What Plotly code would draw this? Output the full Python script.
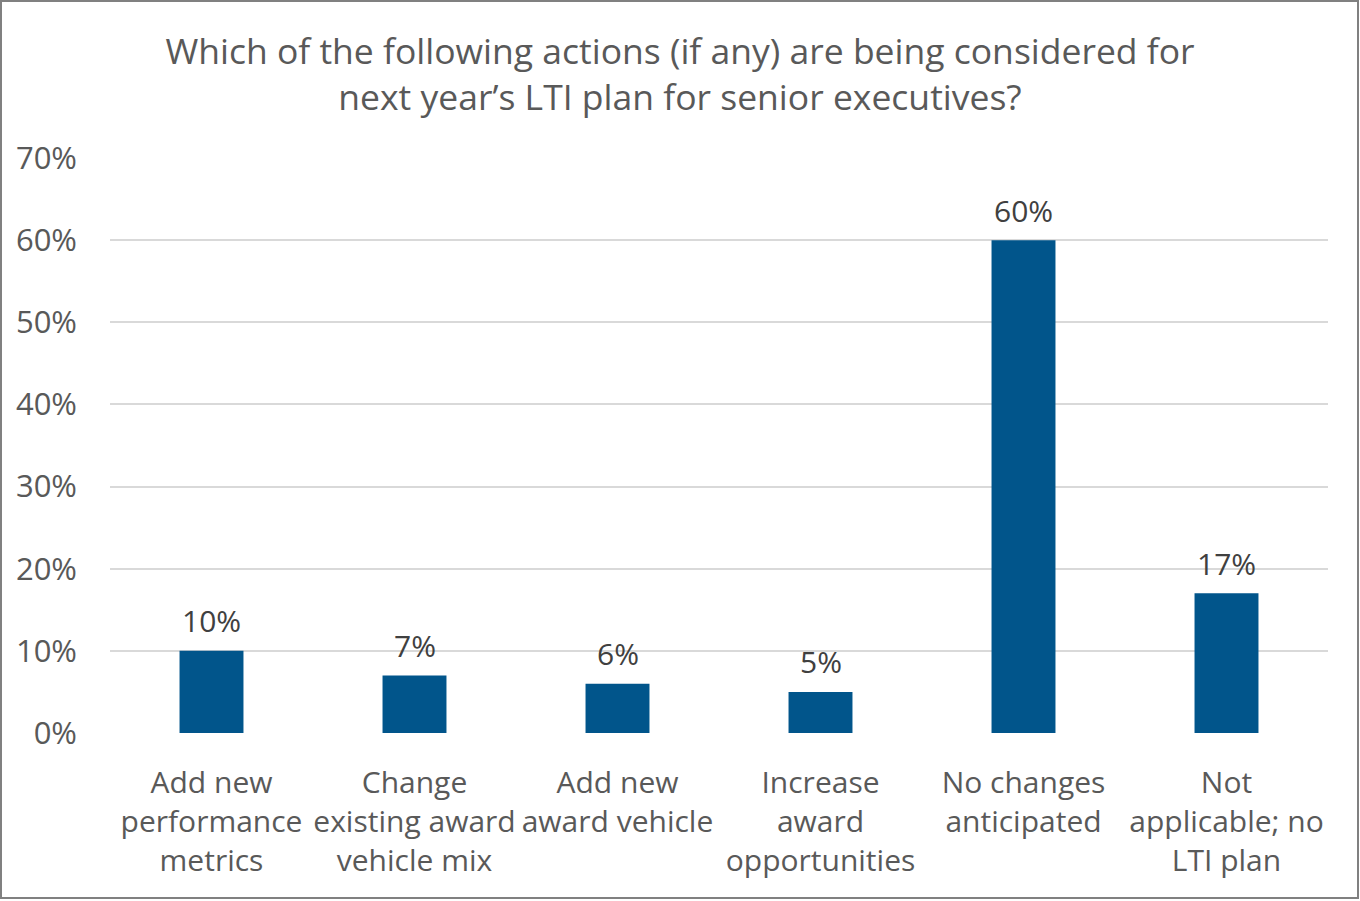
import plotly.graph_objects as go

categories = ["Add new<br>performance<br>metrics", "Change<br>existing award<br>vehicle mix",
              "Add new<br>award vehicle", "Increase<br>award<br>opportunities",
              "No changes<br>anticipated", "Not<br>applicable; no<br>LTI plan"]
values = [0.10, 0.07, 0.06, 0.05, 0.60, 0.17]
labels = ["10%", "7%", "6%", "5%", "60%", "17%"]
y_ticks = [0, 0.1, 0.2, 0.3, 0.4, 0.5, 0.6, 0.7]
y_tick_text = ["0%", "10%", "20%", "30%", "40%", "50%", "60%", "70%"]

W, H = 1360, 901
ML, MR, MT, MB = 110, 32, 158, 168
FONT = "Open Sans"
GRAY = "#595959"

fig = go.Figure(go.Bar(
    x=categories, y=values,
    marker=dict(color="#01558B", line=dict(width=0)),
    cliponaxis=False,
))

annotations = [dict(x=c, y=v, text=t, xref="x", yref="y", showarrow=False,
                    yanchor="middle", yshift=30,
                    font=dict(size=30, color="#404040", family=FONT))
               for c, v, t in zip(categories, values, labels)]

fig.update_layout(
    width=W, height=H,
    margin=dict(l=ML, r=MR, t=MT, b=MB),
    paper_bgcolor="white", plot_bgcolor="white",
    bargap=0.685,
    showlegend=False,
    annotations=annotations,
    title=dict(text="Which of the following actions (if any) are being considered for<br>next year’s LTI plan for senior executives?",
               x=0.5, xanchor="center", y=1 - 64 / H, yanchor="middle",
               font=dict(size=35.5, color=GRAY, family=FONT)),
    font=dict(family=FONT, color=GRAY),
    xaxis=dict(showgrid=False, showline=False, ticks="", ticklabelstandoff=29,
               tickfont=dict(size=30, color=GRAY, family=FONT)),
    yaxis=dict(range=[0, 0.7], tickvals=y_ticks, ticktext=y_tick_text,
               showgrid=True, gridcolor="#d9d9d9", gridwidth=2, zeroline=False,
               showline=False, ticks="", ticklabelstandoff=32,
               tickfont=dict(size=31, color=GRAY, family=FONT)),
    shapes=[dict(type="rect", xref="paper", yref="paper",
                 x0=-(ML - 1) / (W - ML - MR), x1=1 + (MR - 2) / (W - ML - MR),
                 y0=-(MB - 3) / (H - MT - MB), y1=1 + (MT - 1) / (H - MT - MB),
                 line=dict(color="#808080", width=2), fillcolor="rgba(0,0,0,0)")],
)

fig.write_html("out.html")
